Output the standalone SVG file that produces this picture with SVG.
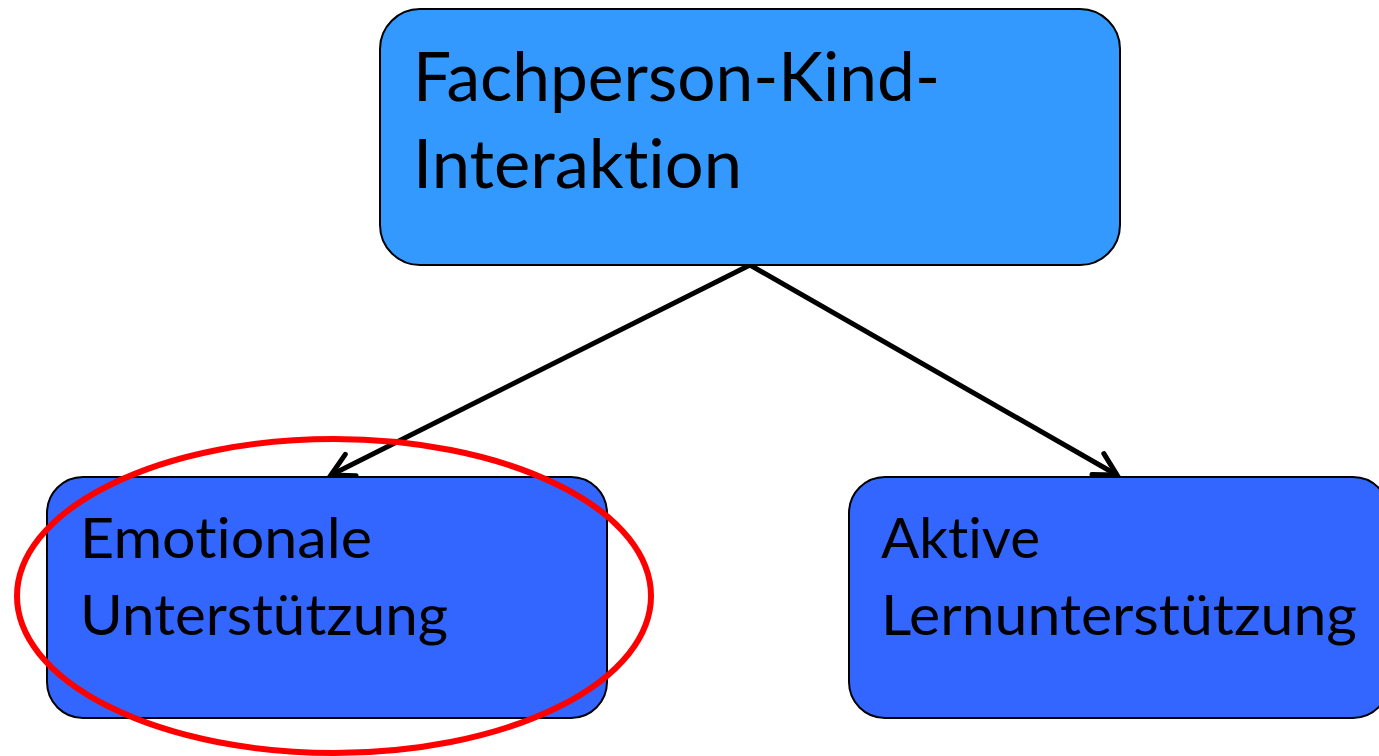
<svg xmlns="http://www.w3.org/2000/svg" width="1379" height="756" viewBox="0 0 1379 756">
<defs>
<style>
.box{stroke:#000;stroke-width:2}
.top{fill:#3399FF}
.bot{fill:#3366FF}
.t{font-family:Lato,"Open Sans","Noto Sans","Liberation Sans",sans-serif;fill:#000;font-variant-ligatures:none;font-feature-settings:"liga" 0,"clig" 0}
.conn{stroke:#000;stroke-width:5;fill:none}
</style>
<marker id="arr" markerUnits="userSpaceOnUse" markerWidth="40" markerHeight="40" viewBox="-30 -20 40 40" refX="0" refY="0" orient="auto">
<path d="M-22,-12 L0,0 L-22,12" fill="none" stroke="#000" stroke-width="5" stroke-linecap="round" stroke-linejoin="miter"/>
</marker>
</defs>
<rect width="1379" height="756" fill="#fff"/>
<g id="connectors">
<line class="conn" x1="750" y1="265" x2="331" y2="475" marker-end="url(#arr)"/>
<line class="conn" x1="750" y1="265" x2="1117" y2="475" marker-end="url(#arr)"/>
</g>
<g id="node-top">
<rect class="box top" x="380" y="9" width="740" height="256" rx="40" ry="40"/>
<text class="t" x="413" y="101" font-size="68" textLength="527" lengthAdjust="spacingAndGlyphs">Fachperson-Kind-</text>
<text class="t" x="413" y="188" font-size="68" textLength="329" lengthAdjust="spacingAndGlyphs">Interaktion</text>
</g>
<g id="node-left">
<rect class="box bot" x="47" y="477" width="560" height="241" rx="36" ry="36"/>
<text class="t" x="80" y="558" font-size="56" textLength="292" lengthAdjust="spacingAndGlyphs">Emotionale</text>
<text class="t" x="80" y="635" font-size="56" textLength="368" lengthAdjust="spacingAndGlyphs">Unterstützung</text>
</g>
<g id="node-right">
<rect class="box bot" x="849" y="477" width="540" height="241" rx="36" ry="36"/>
<text class="t" x="881" y="558" font-size="56" textLength="159" lengthAdjust="spacingAndGlyphs">Aktive</text>
<text class="t" x="881" y="635" font-size="56" textLength="476" lengthAdjust="spacingAndGlyphs">Lernunterstützung</text>
</g>
<g id="highlight">
<ellipse cx="334" cy="596" rx="317" ry="157" fill="none" stroke="#FF0000" stroke-width="6"/>
</g>
</svg>
